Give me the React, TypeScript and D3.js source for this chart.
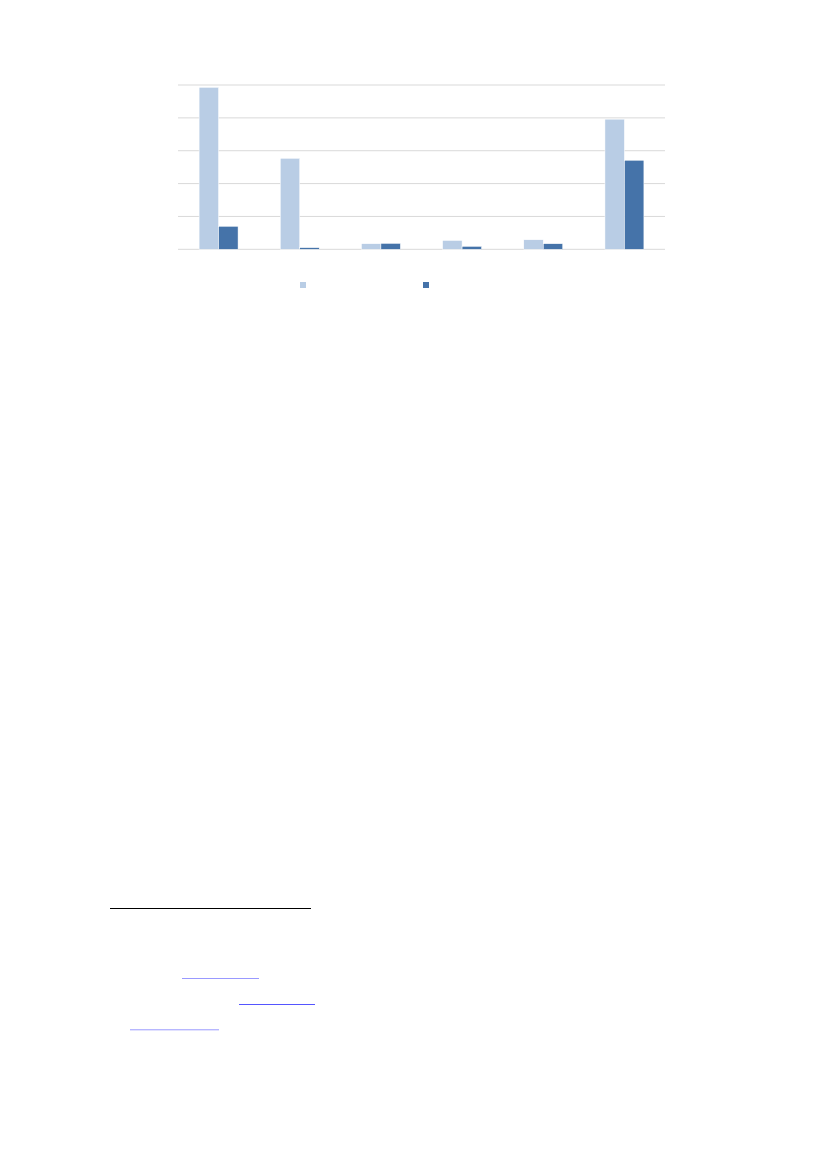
import React, { useEffect, useRef } from 'react';
import * as d3 from 'd3';

// six categories, labels are not visible in the picture
const categories = ['A', 'B', 'C', 'D', 'E', 'F'];
const seriesNames = ['Series 1', 'Series 2'];
const series1 = [4.93, 2.77, 0.17, 0.27, 0.29, 3.96];
const series2 = [0.7, 0.05, 0.18, 0.09, 0.17, 2.71];
const yTicks = [0, 1, 2, 3, 4, 5];

const colors = ['#b9cde5', '#4573a9'];

const App: React.FC = () => {
    const ref = useRef<SVGSVGElement | null>(null);

    useEffect(() => {
        document.body.style.margin = '0';
        if (!ref.current) return;
        const svg = d3.select(ref.current);
        svg.selectAll('*').remove();

        const width = 827;
        const height = 1169;
        const margin = { left: 178, right: 162, top: 85, bottom: 920 };
        svg.attr('width', width).attr('height', height);

        const x = d3.scaleBand()
            .domain(categories)
            .range([margin.left, width - margin.right])
            .paddingInner(0.52)
            .paddingOuter(0.26);

        const xSub = d3.scaleBand()
            .domain(seriesNames)
            .range([0, x.bandwidth()]);

        const y = d3.scaleLinear()
            .domain([0, 5])
            .range([249.3, margin.top]);

        // gridlines
        svg.append('g')
            .selectAll('line')
            .data(yTicks)
            .enter().append('line')
            .attr('x1', margin.left)
            .attr('x2', width - margin.right)
            .attr('y1', d => y(d))
            .attr('y2', d => y(d))
            .attr('stroke', '#d9d9d9')
            .attr('stroke-width', 1);

        const rows = categories.map((c, i) => ({ c, values: [series1[i], series2[i]] }));

        const groups = svg.append('g')
            .selectAll('g')
            .data(rows)
            .enter().append('g')
            .attr('transform', d => `translate(${x(d.c)},0)`);

        groups.selectAll('rect')
            .data(d => d.values.map((v, k) => ({ k, v })))
            .enter().append('rect')
            .attr('x', d => xSub(seriesNames[d.k]) as number)
            .attr('y', d => y(d.v))
            .attr('width', xSub.bandwidth())
            .attr('height', d => y(0) - y(d.v))
            .attr('fill', d => colors[d.k])
            .attr('stroke', '#ffffff')
            .attr('stroke-width', 0.5);

        // legend
        const legendX = [300, 423];
        svg.append('g')
            .selectAll('rect')
            .data(seriesNames)
            .enter().append('rect')
            .attr('x', (_, i) => legendX[i])
            .attr('y', 282)
            .attr('width', 6)
            .attr('height', 6)
            .attr('fill', (_, i) => colors[i]);

        // footnote separator and link underlines
        svg.append('line')
            .attr('x1', 110).attr('x2', 311)
            .attr('y1', 908.5).attr('y2', 908.5)
            .attr('stroke', '#000').attr('stroke-width', 1);

        const links = [
            { x1: 182, x2: 259, y: 978.5, color: '#9999ff' },
            { x1: 239, x2: 315, y: 1004.5, color: '#5555ff' },
            { x1: 130, x2: 219, y: 1029.8, color: '#9999ff' },
        ];
        svg.append('g')
            .selectAll('line')
            .data(links)
            .enter().append('line')
            .attr('x1', d => d.x1)
            .attr('x2', d => d.x2)
            .attr('y1', d => d.y)
            .attr('y2', d => d.y)
            .attr('stroke', d => d.color)
            .attr('stroke-width', 1);
    }, []);

    return <svg ref={ref} style={{ display: 'block' }} />;
};

export default App;
